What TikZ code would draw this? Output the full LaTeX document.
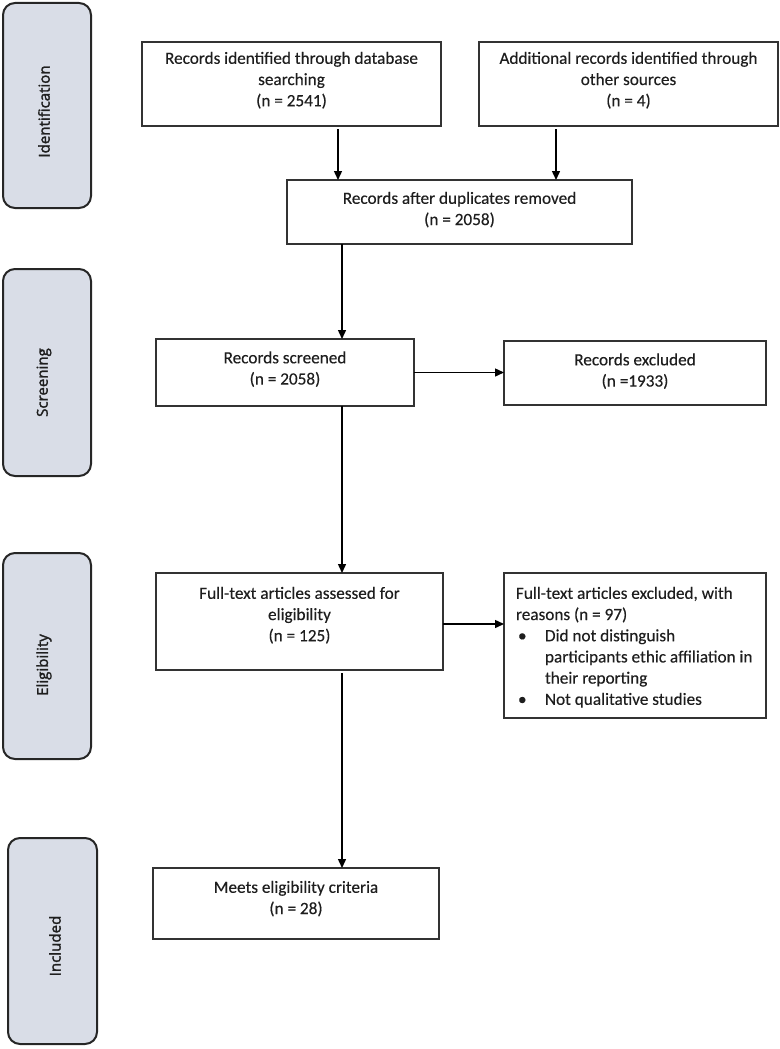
\documentclass[tikz,border=0pt]{standalone}
\usepackage{fontspec}
\setmainfont[FakeBold=0.3]{Carlito}
\newfontfamily\sidefont[FakeBold=1.8]{Open Sans}
\usetikzlibrary{arrows.meta}
\newdimen\px \px=0.75pt
\definecolor{sidefill}{RGB}{217,221,231}
\definecolor{txt}{RGB}{30,30,30}
\newcommand{\bxt}[4]{\parbox[c][#2\px][t]{#1\px}{\centering\vspace*{#3\px}\strut #4\par}}
\tikzset{
  box/.style={draw=black!80, line width=1.7\px, inner sep=0pt, outer sep=0pt, text=txt,
    font=\fontsize{12.9pt}{15.9pt}\selectfont},
  sidebox/.style={draw=black!85, fill=sidefill, line width=2\px, rounded corners=12\px,
    inner sep=0pt, outer sep=0pt},
  sidelabel/.style={rotate=90, text=txt, font=\sidefont\fontsize{11.3pt}{13pt}\selectfont, inner sep=0pt},
  arr/.style={draw=black, line width=1.4\px, -{Triangle[length=6.75pt,width=6pt]}}
}
\begin{document}
\begin{tikzpicture}[x=0.75pt,y=-0.75pt]
\useasboundingbox (0,0) rectangle (780,1049);
% side boxes
\node[sidebox, minimum width=88\px, minimum height=205\px] (s1) at (47,105.5) {};
\node[sidebox, minimum width=88\px, minimum height=207\px] (s2) at (47,372.5) {};
\node[sidebox, minimum width=88\px, minimum height=206\px] (s3) at (47,656) {};
\node[sidebox, minimum width=89\px, minimum height=206\px] (s4) at (52.5,941) {};
\node[sidelabel] (l1) at (44,111.5) {Identification};
\node[sidelabel] (l2) at (44,382.5) {Screening};
\node[sidelabel] (l3) at (44,665) {Eligibility};
\node[sidelabel] (l4) at (55,946) {Included};
% main boxes
\node[box] (b1) at (291.5,84) {\bxt{299}{84}{7}{Records identified through database\\searching\\(n = 2541)}};
\node[box] (b2) at (628.5,84) {\bxt{299}{84}{7}{Additional records identified through\\other sources\\(n = 4)}};
\node[box] (b3) at (459.5,212) {\bxt{345}{64}{9}{Records after duplicates removed\\(n = 2058)}};
\node[box] (sc) at (285,372.5) {\bxt{258}{67}{9.5}{Records screened\\(n = 2058)}};
\node[box] (ex) at (635,373) {\bxt{262}{64}{9.5}{Records excluded\\(n =1933)}};
\node[box] (ft) at (299.5,621.5) {\bxt{287}{97}{11}{Full-text articles assessed for\\eligibility\\(n = 125)}};
\node[box] (fx) at (635,645.5) {\parbox[c][145\px][t]{262\px}{\raggedright\leftskip=12\px\vspace*{11\px}\strut Full-text articles excluded, with\\reasons (n = 97)\\\makebox[29\px][l]{\hspace{2\px}•}Did not distinguish\\\hspace*{29\px}participants ethic affiliation in\\\hspace*{29\px}their reporting\\\makebox[29\px][l]{\hspace{2\px}•}Not qualitative studies\par}};
\node[box] (me) at (296,903.5) {\bxt{286}{71}{10}{Meets eligibility criteria\\(n = 28)}};
% connector columns
\coordinate (c1) at (338,0);
\coordinate (c2) at (556,0);
\coordinate (c3) at (342,0);
\coordinate (h2) at (0,624);
\draw[arr, shorten <=3\px] (b1.south -| c1) -- (b3.north -| c1);
\draw[arr, shorten <=3\px] (b2.south -| c2) -- (b3.north -| c2);
\draw[arr] (b3.south -| c3) -- (sc.north -| c3);
\draw[arr] (sc.south -| c3) -- (ft.north -| c3);
\draw[arr, shorten <=3\px] (ft.south -| c3) -- (me.north -| c3);
\draw[arr] (sc.east) -- (sc.east -| ex.west);
\draw[arr] (ft.east |- h2) -- (fx.west |- h2);
\end{tikzpicture}
\end{document}
